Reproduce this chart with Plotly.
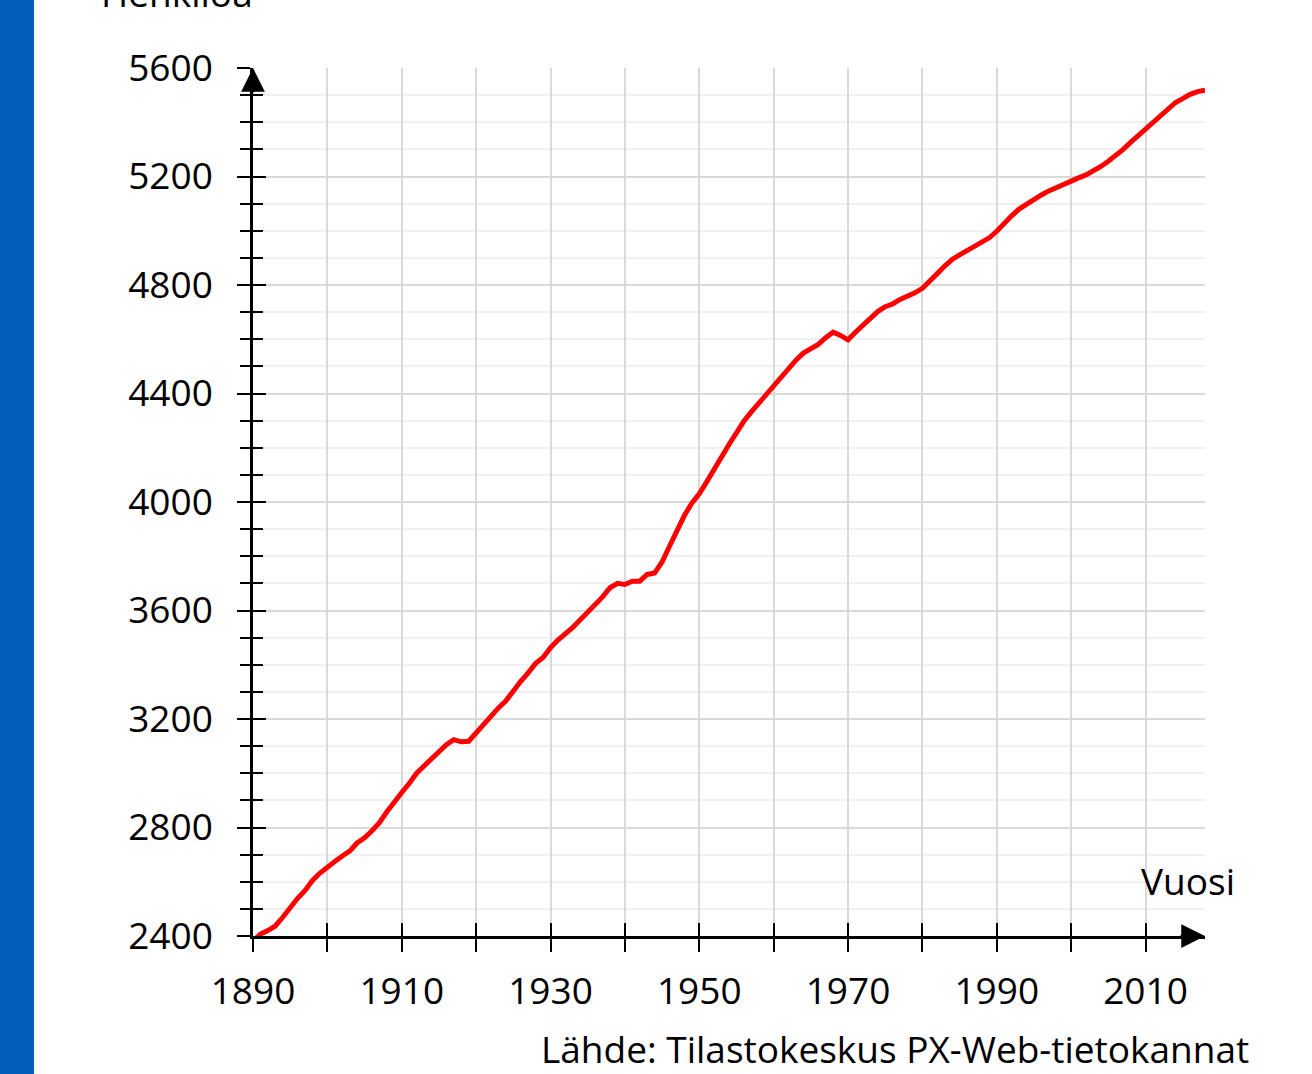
import plotly.graph_objects as go

years = list(range(1890, 2019))
population = [
    2380, 2407, 2420, 2437, 2469, 2506, 2539, 2568, 2605, 2632,
    2656, 2675, 2695, 2713, 2743, 2762, 2788, 2818, 2858, 2896,
    2929, 2962, 3000, 3027, 3053, 3083, 3105, 3124, 3116, 3118,
    3148, 3184, 3211, 3241, 3267, 3304, 3339, 3370, 3405, 3427,
    3463, 3491, 3514, 3538, 3566, 3594, 3619, 3650, 3684, 3700,
    3696, 3708, 3708, 3733, 3738, 3779, 3837, 3894, 3950, 3996,
    4030, 4074, 4123, 4167, 4212, 4255, 4298, 4332, 4364, 4401,
    4430, 4461, 4491, 4523, 4549, 4564, 4581, 4606, 4626, 4614,
    4598, 4626, 4653, 4678, 4702, 4720, 4730, 4747, 4758, 4771,
    4788, 4812, 4842, 4870, 4894, 4911, 4926, 4939, 4955, 4974,
    4998, 5029, 5055, 5080, 5099, 5117, 5132, 5147, 5160, 5171,
    5181, 5195, 5206, 5220, 5237, 5256, 5277, 5300, 5326, 5351,
    5375, 5401, 5427, 5451, 5472, 5487, 5503, 5513, 5518,
]
x_tickvals = list(range(1890, 2011, 10))
x_ticktext = [str(v) if (v - 1890) % 20 == 0 else "" for v in x_tickvals]
y_range = [2400, 5600]
x_range = [1890, 2018]

FONT = "Open Sans"
FS = 37
fig = go.Figure()
fig.add_trace(go.Scatter(x=years, y=population, mode="lines",
                         line=dict(color="#FF0000", width=5),
                         hoverinfo="skip", showlegend=False))
# invisible trace to bind the overlay axes (crossing ticks)
fig.add_trace(go.Scatter(x=years, y=population, mode="lines", xaxis="x2", yaxis="y2",
                         line=dict(color="rgba(0,0,0,0)", width=0),
                         hoverinfo="skip", showlegend=False))

fig.update_layout(
    width=1312, height=1074,
    margin=dict(l=253, r=107, t=68, b=138),
    paper_bgcolor="white", plot_bgcolor="white",
    font=dict(family=FONT, size=FS, color="black"),
    xaxis=dict(range=x_range, tickmode="array", tickvals=x_tickvals, ticktext=x_ticktext,
               showgrid=True, gridcolor="#D9D9D9", gridwidth=1.5,
               showline=True, linecolor="black", linewidth=2.5,
               ticks="outside", ticklen=13, tickwidth=2, tickcolor="black",
               ticklabelstandoff=8, zeroline=False),
    yaxis=dict(range=y_range, dtick=400, tick0=2400,
               showgrid=True, gridcolor="#D9D9D9", gridwidth=1.5,
               showline=True, linecolor="black", linewidth=2.5,
               ticks="outside", ticklen=13, tickwidth=2, tickcolor="black",
               ticklabelstandoff=17, zeroline=False,
               minor=dict(dtick=100, tick0=2400, ticks="outside", ticklen=10, tickwidth=2,
                          tickcolor="black", showgrid=True, gridcolor="#F0F0F0", gridwidth=1.5)),
    xaxis2=dict(range=x_range, overlaying="x", side="bottom", tickmode="array",
                tickvals=x_tickvals, showticklabels=False, showgrid=False,
                ticks="inside", ticklen=13, tickwidth=2, tickcolor="black", zeroline=False),
    yaxis2=dict(range=y_range, overlaying="y", side="left", dtick=400, tick0=2400,
                showticklabels=False, showgrid=False, zeroline=False,
                ticks="inside", ticklen=13, tickwidth=2, tickcolor="black",
                minor=dict(dtick=100, tick0=2400, ticks="inside", ticklen=10, tickwidth=2,
                           tickcolor="black", showgrid=False)),
    shapes=[dict(type="rect", xref="paper", yref="paper",
                 x0=-253 / 952, x1=-219 / 952, y0=-138 / 868, y1=1 + 68 / 868,
                 fillcolor="#005EB8", line=dict(width=0), layer="above")],
    annotations=[
        dict(x=1890, y=5600, xref="x", yref="y", ax=0, ay=26, axref="pixel", ayref="pixel",
             showarrow=True, arrowhead=2, arrowsize=1.9, arrowwidth=2.5, arrowcolor="black", text=""),
        dict(x=2018, y=2400, xref="x", yref="y", ax=-26, ay=0,
             showarrow=True, arrowhead=2, arrowsize=1.9, arrowwidth=2.5, arrowcolor="black", text=""),
        dict(x=2 / 952, y=1 + 76 / 868, xref="paper", yref="paper", xanchor="right", yanchor="middle",
             text="Henkilöä", showarrow=False, font=dict(size=FS)),
        dict(x=984 / 952, y=56 / 868, xref="paper", yref="paper", xanchor="right", yanchor="middle",
             text="Vuosi", showarrow=False, font=dict(size=FS)),
        dict(x=998 / 952, y=-112 / 868, xref="paper", yref="paper", xanchor="right", yanchor="middle",
             text="Lähde: Tilastokeskus PX-Web-tietokannat", showarrow=False, font=dict(size=FS)),
    ],
)

fig.write_html("out.html", config={"displayModeBar": False},
               post_script="document.body.style.margin='0';document.body.style.padding='0';")
